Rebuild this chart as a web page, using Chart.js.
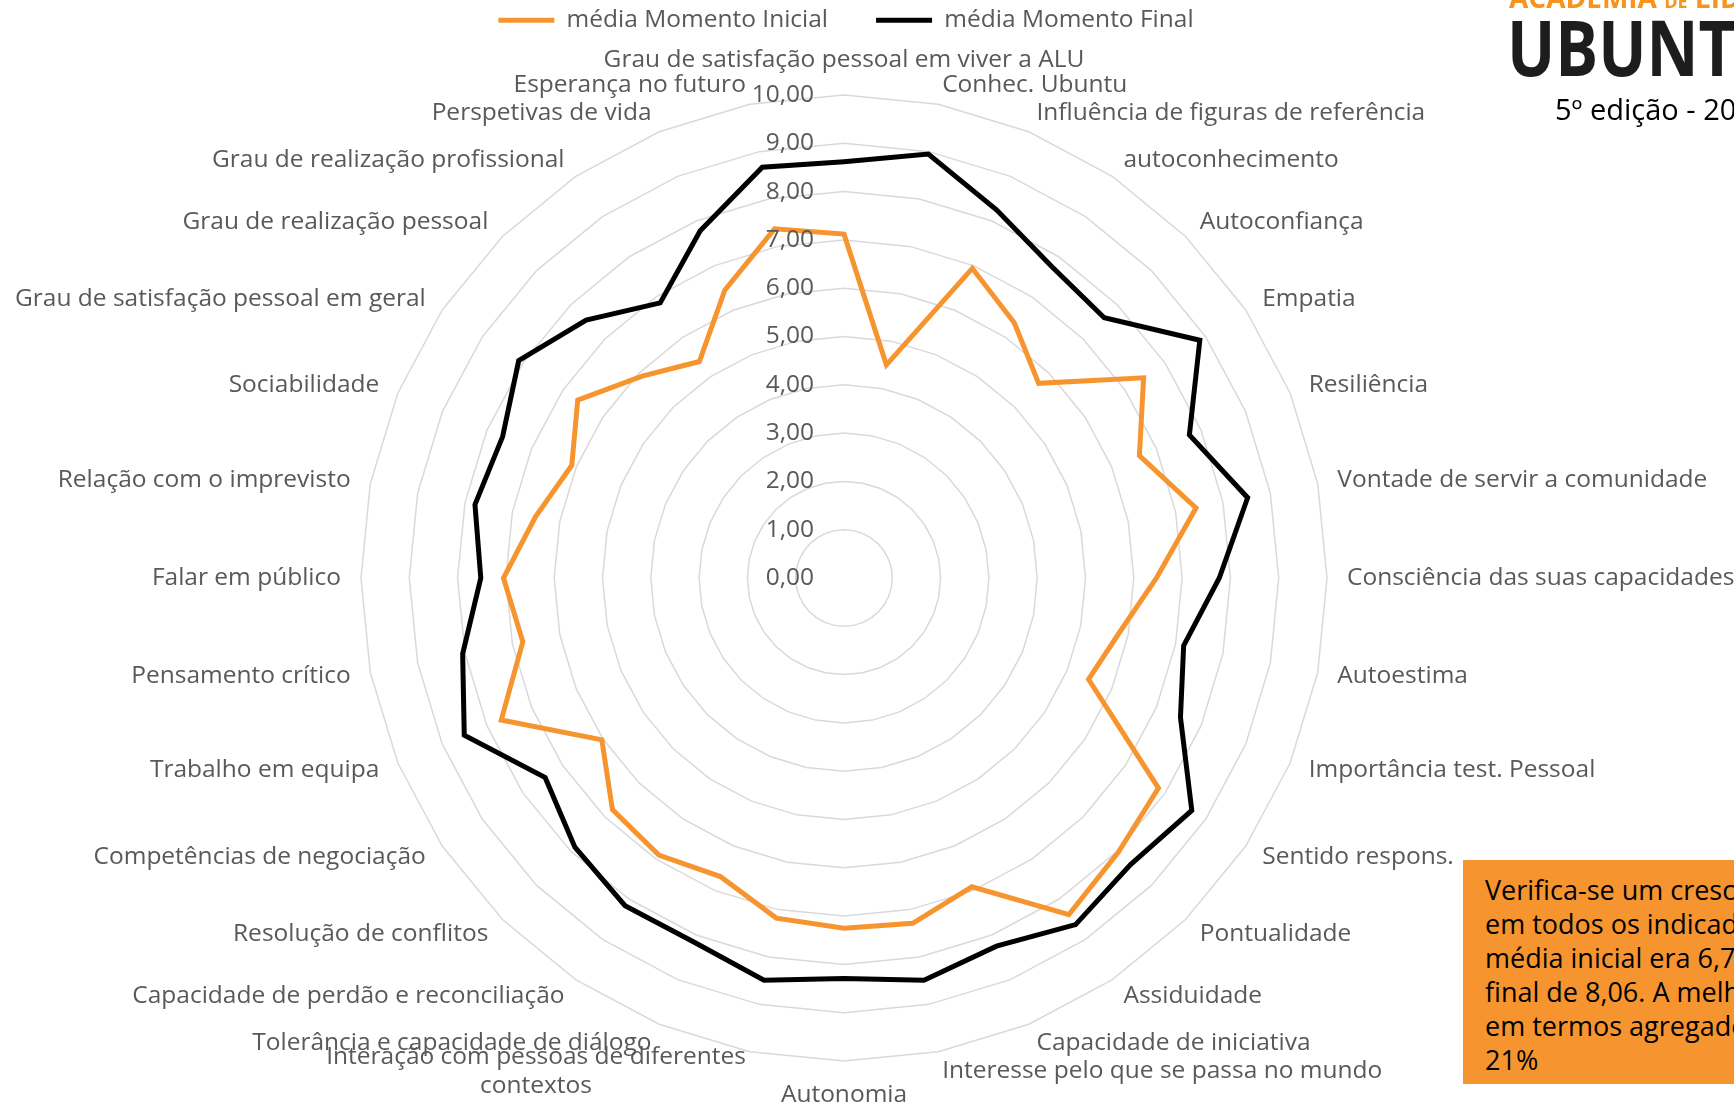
<!DOCTYPE html>
<html lang="pt">
<head>
<meta charset="utf-8">
<title>Academia de Líderes Ubuntu - média inicial vs final</title>
<script src="https://cdn.jsdelivr.net/npm/chart.js@4/dist/chart.umd.min.js"></script>
<style>
  html, body { margin: 0; padding: 0; background: #fff; overflow: hidden; }
  #palco { position: relative; width: 1734px; height: 1108px; overflow: hidden; font-family: 'Open Sans', sans-serif; }
  #grafico { position: absolute; left: 0; top: 0; }
  .logo-topo { position: absolute; left: 1509px; top: -17px; font-weight: 700; font-size: 28px; line-height: 28px; color: #F7941D; white-space: nowrap; }
  .logo-topo small { font-size: 18px; }
  .logo-nome { position: absolute; left: 1507px; top: 8px; font-weight: 700; font-size: 77px; line-height: 77px; color: #1d1d1b; white-space: nowrap; transform: scaleX(0.83); transform-origin: left top; }
  .logo-edicao { position: absolute; left: 1555px; top: 94px; font-size: 29px; line-height: 29px; color: #000; white-space: nowrap; }
  .caixa { position: absolute; left: 1463px; top: 860px; width: 300px; height: 224px; background: #F6952F; box-sizing: border-box; padding: 13px 0 0 22px; }
  .caixa div { font-size: 27px; line-height: 34px; color: #000; white-space: nowrap; }
</style>
</head>
<body>
<div id="palco">
  <canvas id="grafico" width="1734" height="1108"></canvas>
  <div class="logo-topo">ACADEMIA <small>DE</small> LÍDERES</div>
  <div class="logo-nome">UBUNTU</div>
  <div class="logo-edicao">5º edição - 20</div>
  <div class="caixa">
    <div>Verifica-se um crescimento</div>
    <div>em todos os indicadores. A</div>
    <div>média inicial era 6,7</div>
    <div>final de 8,06. A melhoria</div>
    <div>em termos agregados</div>
    <div>21%</div>
  </div>
</div>
<script>
const categorias = [
  'Grau de satisfação pessoal em viver a ALU', 'Conhec. Ubuntu', 'Influência de figuras de referência',
  'autoconhecimento', 'Autoconfiança', 'Empatia', 'Resiliência', 'Vontade de servir a comunidade',
  'Consciência das suas capacidades', 'Autoestima', 'Importância test. Pessoal', 'Sentido respons.',
  'Pontualidade', 'Assiduidade', 'Capacidade de iniciativa', 'Interesse pelo que se passa no mundo',
  'Autonomia', ['Interação com pessoas de diferentes', 'contextos'], 'Tolerância e capacidade de diálogo',
  'Capacidade de perdão e reconciliação', 'Resolução de conflitos', 'Competências de negociação',
  'Trabalho em equipa', 'Pensamento crítico', 'Falar em público', 'Relação com o imprevisto',
  'Sociabilidade', 'Grau de satisfação pessoal em geral', 'Grau de realização pessoal',
  'Grau de realização profissional', 'Perspetivas de vida', 'Esperança no futuro'
];

const mediaInicial = [7.12, 4.50, 6.94, 6.35, 5.70, 7.46, 6.62, 7.43, 6.47, 5.81, 5.48, 7.83, 8.03, 8.38, 6.92, 7.29,
  7.25, 7.18, 6.69, 6.90, 6.78, 6.03, 7.68, 6.78, 7.05, 6.51, 6.10, 6.63, 5.91, 5.39, 6.45, 7.37];

const mediaFinal = [8.62, 8.95, 8.25, 7.75, 7.62, 8.86, 7.74, 8.52, 7.77, 7.17, 7.54, 8.66, 8.39, 8.63, 8.25, 8.49,
  8.29, 8.49, 8.15, 8.16, 7.88, 7.44, 8.51, 8.05, 7.52, 7.79, 7.65, 8.10, 7.55, 6.85, 7.78, 8.67];

const marcasEixo = ['0,00', '1,00', '2,00', '3,00', '4,00', '5,00', '6,00', '7,00', '8,00', '9,00', '10,00'];

const laranja = '#F6952F';
const corTexto = '#595959';
const fonte = "'Open Sans', sans-serif";
const tamFonte = 24.5;

// nomes das categorias e valores do eixo desenhados como no Excel
const rotulosEixos = {
  id: 'rotulosEixos',
  afterDraw(chart) {
    const escala = chart.scales.r;
    const ctx = chart.ctx;
    ctx.save();
    ctx.font = tamFonte + 'px ' + fonte;
    ctx.fillStyle = corTexto;
    ctx.textBaseline = 'middle';

    ctx.textAlign = 'right';
    escala.ticks.forEach(t => {
      const y = escala.yCenter - escala.getDistanceFromCenterForValue(t.value);
      ctx.fillText(t.label, escala.xCenter - 30, y);
    });

    const n = categorias.length;
    const alturaLinha = 29;
    ctx.textAlign = 'center';
    categorias.forEach((rotulo, i) => {
      const linhas = [].concat(rotulo);
      const p = escala.getPointPosition(i, escala.drawingArea + 20);
      const graus = i * 360 / n;
      const largura = Math.max(...linhas.map(l => ctx.measureText(l).width));
      let xc = p.x;
      let yc = p.y;
      if (graus > 0 && graus < 180) xc = p.x + largura / 2;
      if (graus > 180) xc = p.x - largura / 2;
      if (graus === 0) yc = p.y - linhas.length * alturaLinha / 2;
      if (graus === 180) yc = p.y + linhas.length * alturaLinha / 2;
      linhas.forEach((l, k) => {
        ctx.fillText(l, xc, yc + (k - (linhas.length - 1) / 2) * alturaLinha);
      });
    });
    ctx.restore();
  }
};

new Chart(document.getElementById('grafico'), {
  type: 'radar',
  data: {
    labels: categorias,
    datasets: [
      {
        label: 'média Momento Inicial',
        data: mediaInicial,
        borderColor: laranja,
        backgroundColor: 'transparent',
        borderWidth: 5,
        fill: false,
        pointRadius: 0,
        pointHoverRadius: 0,
        pointBorderColor: laranja,
        pointBorderWidth: 5
      },
      {
        label: 'média Momento Final',
        data: mediaFinal,
        borderColor: '#000',
        backgroundColor: 'transparent',
        borderWidth: 5,
        fill: false,
        pointRadius: 0,
        pointHoverRadius: 0,
        pointBorderColor: '#000',
        pointBorderWidth: 5
      }
    ]
  },
  options: {
    responsive: false,
    animation: false,
    events: [],
    layout: { padding: { top: -40, right: 42 } },
    plugins: {
      tooltip: { enabled: false },
      legend: {
        position: 'top',
        labels: {
          usePointStyle: true,
          pointStyle: 'line',
          pointStyleWidth: 56,
          padding: 48,
          color: corTexto,
          font: { family: fonte, size: tamFonte }
        }
      }
    },
    scales: {
      r: {
        min: 0,
        max: 10,
        ticks: {
          stepSize: 1,
          display: false,
          callback: (v, i) => marcasEixo[i]
        },
        grid: { color: '#d9d9d9', lineWidth: 1.5 },
        angleLines: { display: false },
        pointLabels: { display: false },
        afterFit: (scale) => {
          scale.xCenter = 844;
          scale.yCenter = 578;
          scale.drawingArea = 483;
        }
      }
    }
  },
  plugins: [rotulosEixos]
});
</script>
</body>
</html>
